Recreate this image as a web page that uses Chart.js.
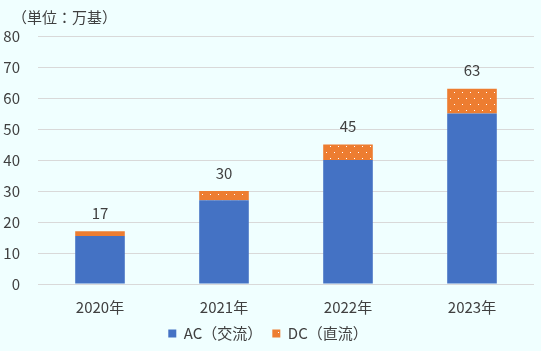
<!DOCTYPE html>
<html>
<head>
<meta charset="utf-8">
<script src="https://cdn.jsdelivr.net/npm/chart.js@4"></script>
<style>
  html, body { margin: 0; padding: 0; background: #F0FFFF; }
  #wrap { width: 541px; height: 351px; }
</style>
</head>
<body>
<div id="wrap"><canvas id="myChart"></canvas></div>
<script>
    // data
    const categories = ['2020年', '2021年', '2022年', '2023年'];
    const acValues = [15.5, 27, 40, 55];
    const dcValues = [1.5, 3, 5, 8];
    const totals = [17, 30, 45, 63];
    const unitLabel = '（単位：万基）';

    const FONT = '"Noto Sans CJK JP", "Noto Sans", sans-serif';

    // orange with small white dots
    function makeDots() {
      const c = document.createElement('canvas');
      c.width = 16;
      c.height = 12;
      const g = c.getContext('2d');
      g.fillStyle = '#ED7D31';
      g.fillRect(0, 0, 16, 12);
      g.fillStyle = '#ffffff';
      g.fillRect(2, 2, 1, 1);
      g.fillRect(10, 2, 1, 1);
      g.fillRect(6, 8, 1, 1);
      g.fillRect(14, 8, 1, 1);
      return document.createElement('canvas').getContext('2d').createPattern(c, 'repeat');
    }

    const data = {
      labels: categories,
      datasets: [
        {
          label: 'AC（交流）',
          data: acValues,
          backgroundColor: '#4472C4',
          stack: 's',
        },
        {
          label: 'DC（直流）',
          data: dcValues,
          backgroundColor: makeDots(),
          stack: 's',
        },
      ],
    };

    // totals above bars + unit label
    const extraText = {
      id: 'extraText',
      afterDatasetsDraw(chart) {
        const { ctx } = chart;
        const meta = chart.getDatasetMeta(1);
        ctx.save();
        ctx.font = '15px ' + FONT;
        ctx.fillStyle = '#404040';
        ctx.textAlign = 'center';
        ctx.textBaseline = 'middle';
        totals.forEach((t, i) => {
          const bar = meta.data[i];
          ctx.fillText(t, bar.x, bar.y - 18);
        });
        ctx.textAlign = 'left';
        ctx.fillText(unitLabel, 12, 17);
        ctx.restore();
      },
    };

    const config = {
      type: 'bar',
      data,
      options: {
        responsive: true,
        maintainAspectRatio: false,
        animation: false,
        layout: { padding: { top: 36, left: 2, right: 7, bottom: 0 } },
        plugins: {
          legend: {
            position: 'bottom',
            labels: {
              boxWidth: 8,
              boxHeight: 8,
              padding: 10,
              color: '#404040',
              font: { family: FONT, size: 15 },
            },
          },
          tooltip: { enabled: false },
        },
        scales: {
          x: {
            stacked: true,
            afterFit(scale) { scale.height = 32; },
            grid: { display: false },
            border: { display: false },
            ticks: { color: '#404040', font: { family: FONT, size: 15 }, padding: 6 },
          },
          y: {
            stacked: true,
            min: 0,
            max: 80,
            afterFit(scale) { scale.width = 36; },
            grid: { color: '#D9D9D9', drawTicks: false },
            border: { display: false },
            ticks: { stepSize: 10, color: '#404040', font: { family: FONT, size: 15 }, padding: 18 },
          },
        },
        datasets: { bar: { categoryPercentage: 1, barPercentage: 0.4 } },
      },
      plugins: [extraText],
    };

    const myChart = new Chart(document.getElementById('myChart'), config);
</script>
</body>
</html>
